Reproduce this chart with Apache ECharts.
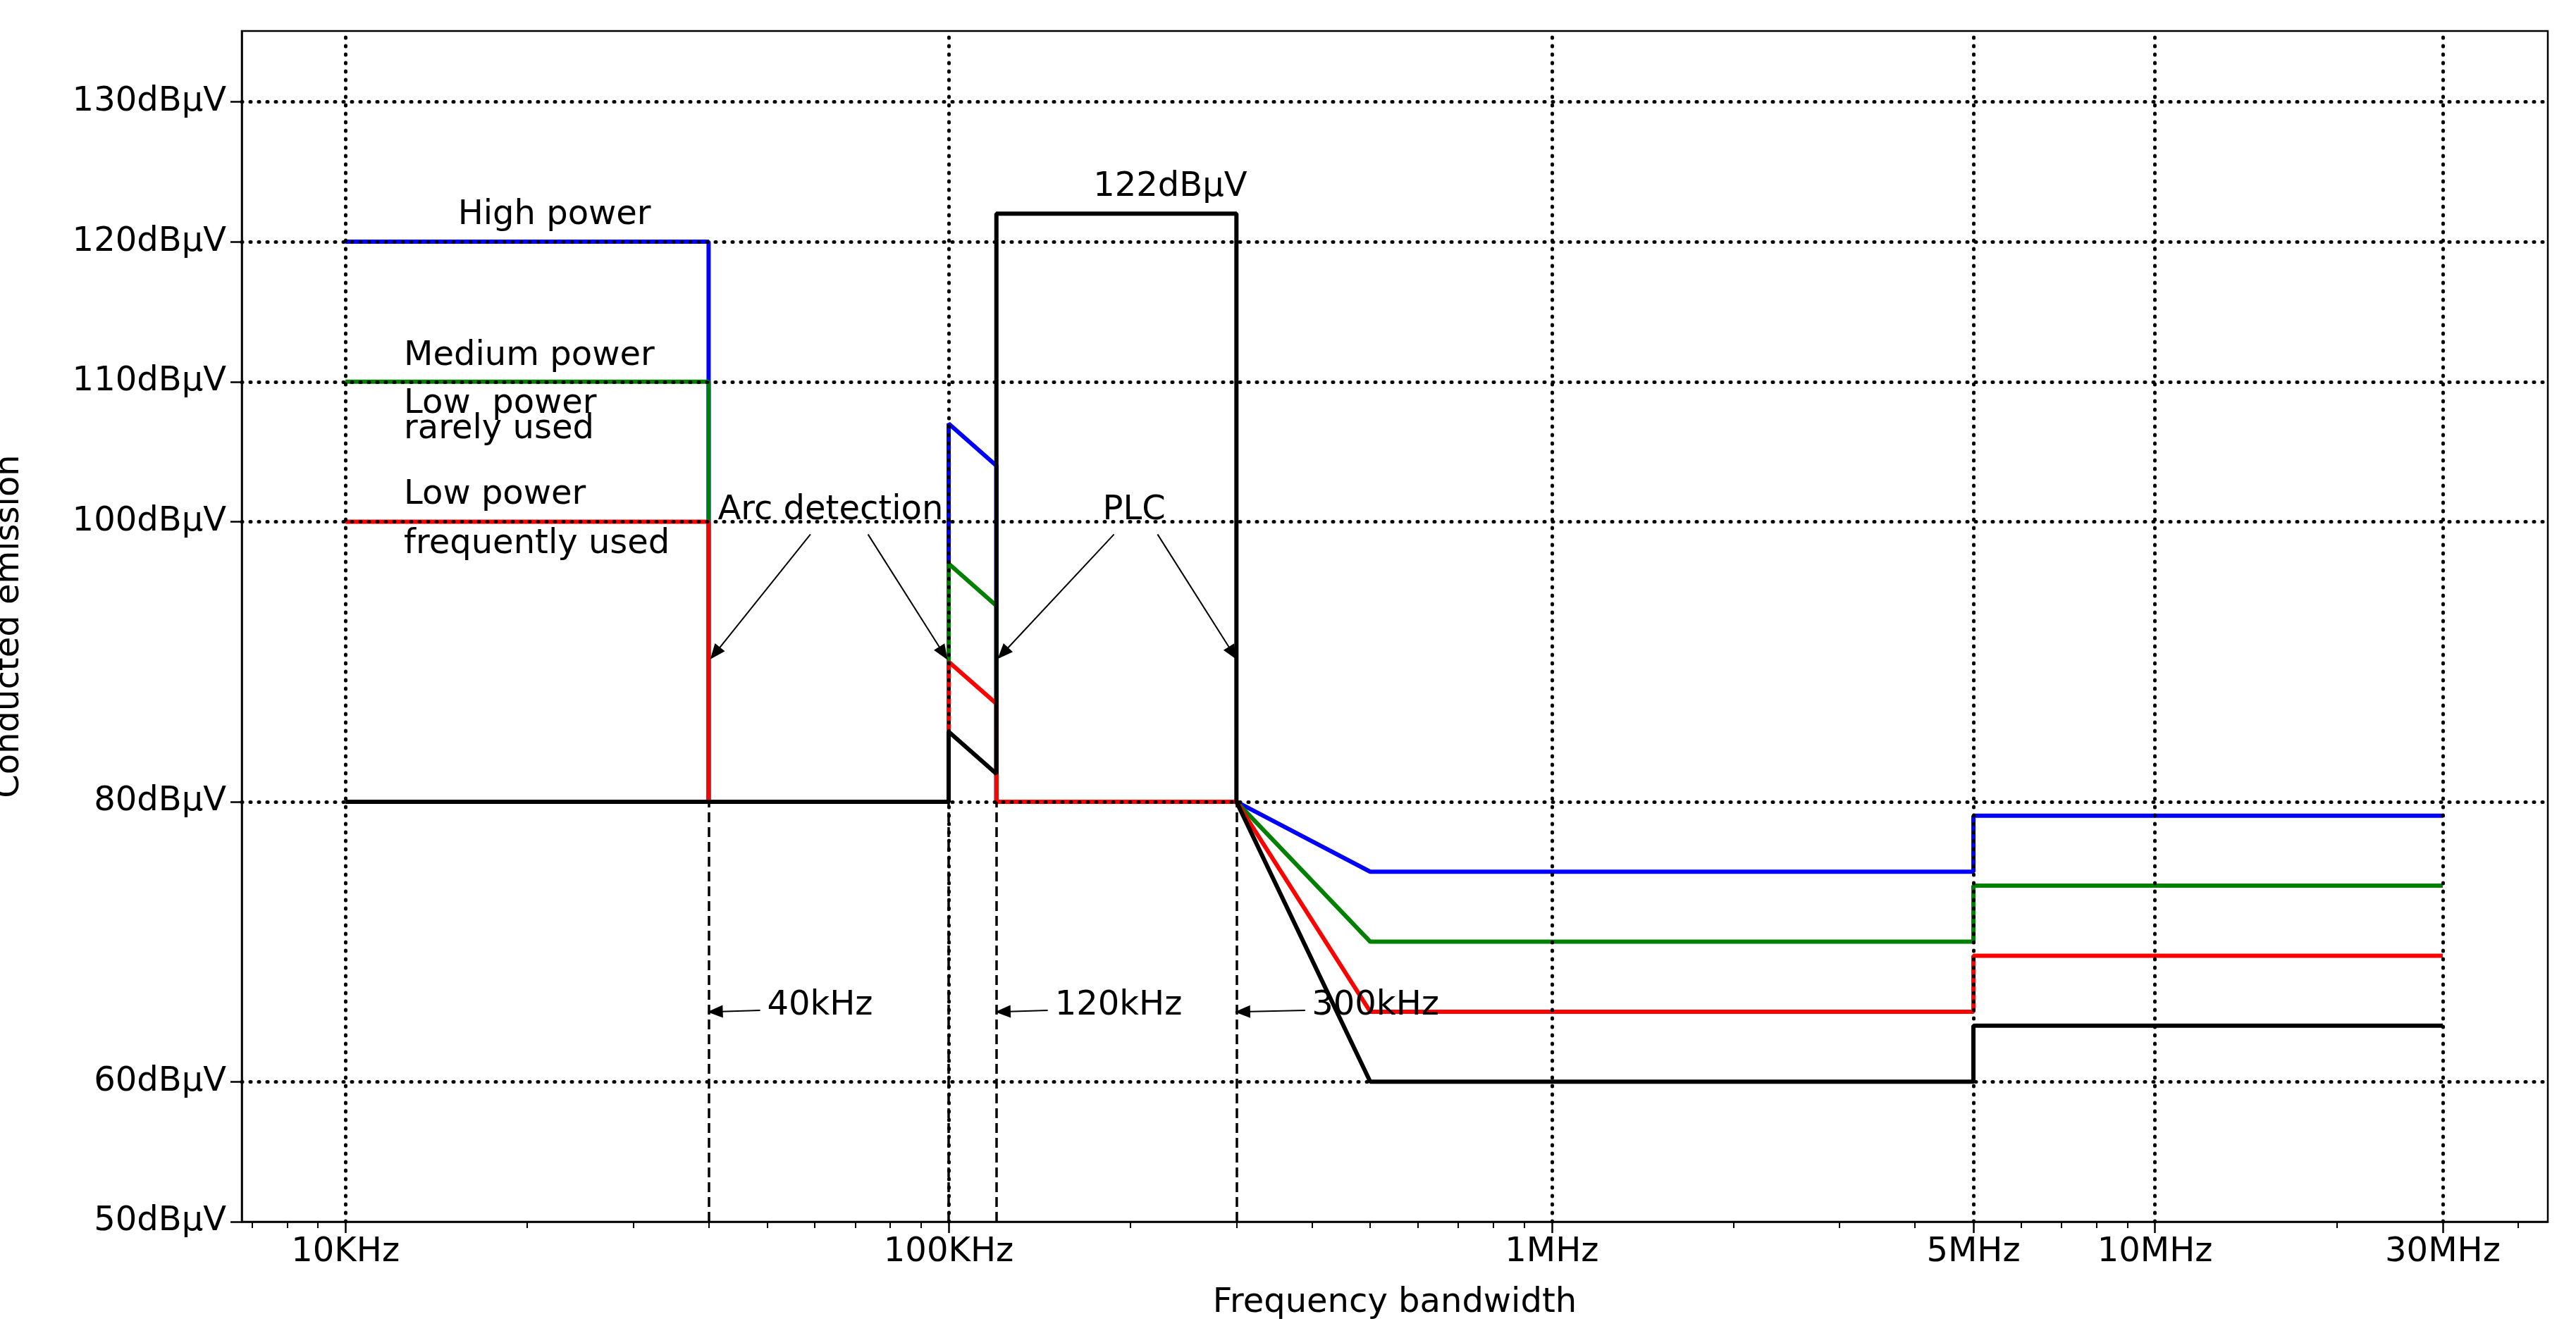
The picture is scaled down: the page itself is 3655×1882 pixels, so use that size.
<!DOCTYPE html>
<html><head><meta charset="utf-8">
<script src="https://cdn.jsdelivr.net/npm/echarts@6/dist/echarts.min.js"></script>
<style>html,body{margin:0;padding:0;background:#fff}#c{width:3655px;height:1882px}</style>
</head><body><div id="c"></div>
<script>
const highPower = [[1e4,120],[4e4,120],[4e4,80],[1e5,80],[1e5,107],[1.2e5,104],[1.2e5,80],[3e5,80],[5e5,75],[5e6,75],[5e6,79],[3e7,79]];
const mediumPower = [[1e4,110],[4e4,110],[4e4,80],[1e5,80],[1e5,97],[1.2e5,94],[1.2e5,80],[3e5,80],[5e5,70],[5e6,70],[5e6,74],[3e7,74]];
const lowPowerFreq = [[1e4,100],[4e4,100],[4e4,80],[1e5,80],[1e5,90],[1.2e5,87],[1.2e5,80],[3e5,80],[5e5,65],[5e6,65],[5e6,69],[3e7,69]];
const plcLine = [[1e4,80],[1e5,80],[1e5,85],[1.2e5,82],[1.2e5,122],[3e5,122],[3e5,80],[5e5,60],[5e6,60],[5e6,64],[3e7,64]];
const xMajor = [1e4,1e5,1e6,5e6,1e7,3e7];
const xMajorLabels = {10000:'10KHz',100000:'100KHz',1000000:'1MHz',5000000:'5MHz',10000000:'10MHz',30000000:'30MHz'};
const xMinor = [7e3,8e3,9e3,2e4,3e4,4e4,5e4,6e4,7e4,8e4,9e4,2e5,3e5,4e5,5e5,6e5,7e5,8e5,9e5,2e6,3e6,4e6,6e6,7e6,8e6,9e6,2e7,4e7];
const yTicks = [50,60,80,100,110,120,130];
const yGrid = [60,80,100,110,120,130];
const boundaries = [4e4,1e5,1.2e5,3e5];
const texts = [
  {v:[2.22e4,121.9], t:'High power', a:'center'},
  {v:[1.25e4,111.8], t:'Medium power', a:'left'},
  {v:[1.25e4,108.4], t:'Low  power', a:'left'},
  {v:[1.25e4,106.6], t:'rarely used', a:'left'},
  {v:[1.25e4,101.9], t:'Low power', a:'left'},
  {v:[1.25e4,98.4], t:'frequently used', a:'left'},
  {v:[2.33e5,123.9], t:'122dBμV', a:'center'},
  {v:[6.37e4,100.8], t:'Arc detection', a:'center'},
  {v:[2.03e5,100.8], t:'PLC', a:'center'},
  {v:[5.0e4,65.4], t:'40kHz', a:'left'},
  {v:[1.5e5,65.4], t:'120kHz', a:'left'},
  {v:[4.0e5,65.4], t:'300kHz', a:'left'}
];
const arrows = [
  [[5.9e4,99.1],[4.1e4,90.6]],[[7.35e4,99.1],[9.8e4,90.6]],
  [[1.88e5,99.1],[1.23e5,90.6]],[[2.22e5,99.1],[2.96e5,90.6]],
  [[4.87e4,65.1],[4.1e4,65]],[[1.46e5,65.1],[1.23e5,65]],[[3.9e5,65.1],[3.07e5,65]]
];
const FS = 48, FF = 'DejaVu Sans';
const chart = echarts.init(document.getElementById('c'));
const dotted = {color:'#000', width:5, type:[1,11], cap:'round'};
function line(data,color,name){return {type:'line',name,data,showSymbol:false,symbol:'none',lineStyle:{color,width:6},z:3,animation:false};}
chart.setOption({
  animation:false,
  textStyle:{fontFamily:FF},
  grid:{left:343,right:40,top:44,bottom:148,outerBoundsMode:'none',containLabel:false,show:true,borderColor:'#000',borderWidth:2.5,backgroundColor:'transparent'},
  xAxis:[{type:'log',logBase:10,min:6730,max:4.48e7,name:'Frequency bandwidth',nameLocation:'middle',nameGap:92,
    nameTextStyle:{fontSize:FS,color:'#000',fontFamily:FF},
    axisLine:{lineStyle:{color:'#000',width:2.5}},splitLine:{show:false},
    axisTick:{customValues:xMajor,length:16,lineStyle:{color:'#000',width:2.5}},
    axisLabel:{customValues:xMajor,formatter:v=>xMajorLabels[Math.round(v)]||'',fontSize:FS,color:'#000',margin:20,fontFamily:FF}},
   {type:'log',logBase:10,min:6730,max:4.48e7,position:'bottom',axisLine:{show:false},splitLine:{show:false},
    axisTick:{customValues:xMinor,length:9,lineStyle:{color:'#000',width:2}},axisLabel:{show:false}}],
  yAxis:{type:'value',min:50,max:135.05,name:'Conducted emission',nameLocation:'middle',nameGap:305,
    nameTextStyle:{fontSize:FS,color:'#000',fontFamily:FF},
    axisLine:{lineStyle:{color:'#000',width:2.5}},splitLine:{show:false},
    axisTick:{customValues:yTicks,length:16,lineStyle:{color:'#000',width:2.5}},
    axisLabel:{customValues:yTicks,formatter:v=>v+'dBμV',fontSize:FS,color:'#000',margin:22,fontFamily:FF}},
  series:[
    {type:'line',data:[],markLine:{silent:true,symbol:['none','none'],animation:false,label:{show:false},lineStyle:dotted,
      data:[...yGrid.map(v=>({yAxis:v})),...xMajor.map(v=>({xAxis:v}))]}},
    {type:'line',data:[],markLine:{silent:true,symbol:['none','none'],animation:false,label:{show:false},
      lineStyle:{color:'#000',width:3.5,type:[14,7]},
      data:boundaries.map(v=>[{coord:[v,50]},{coord:[v,80]}])}},
    line(highPower,'#0000ff','High power'),
    line(mediumPower,'#008000','Medium power'),
    line(lowPowerFreq,'#ff0000','Low power'),
    line(plcLine,'#000000','PLC'),
    {type:'line',data:[],z:5,markLine:{silent:true,symbol:['none','triangle'],symbolSize:[18,22],animation:false,label:{show:false},
      lineStyle:{color:'#000',width:2,type:'solid'},data:arrows.map(a=>[{coord:a[0]},{coord:a[1]}])}},
    {type:'scatter',symbolSize:0,z:6,itemStyle:{opacity:1},data:texts.map(o=>({value:o.v,label:{show:true,position:'inside',formatter:o.t,align:o.a,
      fontSize:FS,color:'#000000',opacity:1,textBorderWidth:0,fontFamily:FF}}))}
  ]
});
</script></body></html>
